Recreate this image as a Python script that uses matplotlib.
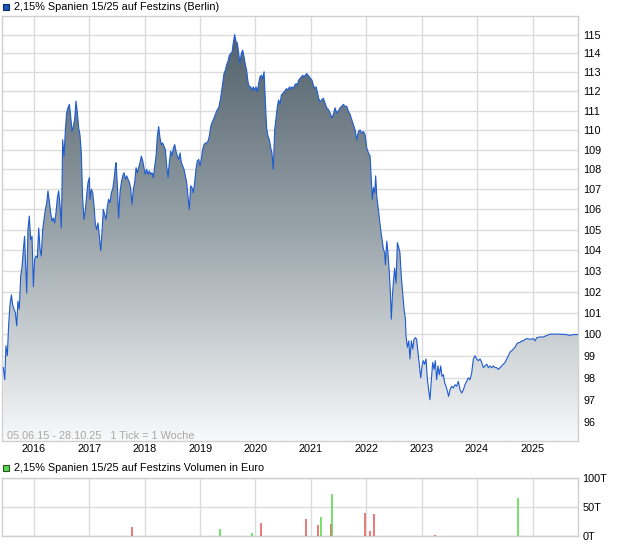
import numpy as np
import pandas as pd
import matplotlib
matplotlib.use("Agg")
import matplotlib.pyplot as plt
import matplotlib.dates as mdates
from matplotlib.colors import LinearSegmentedColormap
from matplotlib.patches import Rectangle
from matplotlib.ticker import FixedLocator, NullLocator, FuncFormatter

plt.rcParams['font.family'] = ['Liberation Sans', 'DejaVu Sans']

# Kursverlauf: Tage seit 05.06.15 und Kurs in %
start = pd.Timestamp('2015-06-05')
ende = pd.Timestamp('2025-10-28')

tage = [9, 18, 26, 35, 44, 53, 62, 70, 79, 88, 97, 105, 114, 123, 132, 141, 149, 158, 163, 171,
        180, 189, 198, 207, 215, 224, 233, 242, 251, 259, 268, 277, 286, 295, 303, 312, 321, 330, 339, 347,
        356, 365, 374, 383, 391, 396, 400, 409, 418, 426, 435, 444, 453, 462, 470, 479, 488, 497, 506, 514,
        523, 532, 541, 550, 558, 567, 576, 580, 589, 598, 607, 615, 624, 633, 642, 651, 659, 668, 677, 686,
        695, 703, 712, 721, 730, 739, 747, 752, 761, 769, 778, 787, 796, 805, 813, 822, 831, 840, 848, 857,
        866, 875, 884, 892, 901, 910, 919, 928, 936, 945, 954, 963, 972, 980, 989, 998, 1007, 1016, 1024, 1033,
        1042, 1051, 1059, 1068, 1077, 1086, 1095, 1103, 1112, 1121, 1130, 1139, 1147, 1156, 1165, 1174, 1183, 1191, 1200, 1209,
        1218, 1227, 1235, 1244, 1253, 1262, 1270, 1279, 1288, 1297, 1306, 1314, 1323, 1332, 1341, 1350, 1358, 1367, 1376, 1385,
        1394, 1402, 1411, 1420, 1429, 1438, 1446, 1455, 1464, 1473, 1481, 1490, 1499, 1508, 1517, 1525, 1534, 1543, 1552, 1561,
        1569, 1578, 1587, 1596, 1605, 1613, 1622, 1631, 1640, 1649, 1657, 1666, 1675, 1684, 1692, 1701, 1710, 1719, 1728, 1736,
        1745, 1754, 1763, 1772, 1780, 1789, 1798, 1807, 1816, 1824, 1833, 1842, 1851, 1860, 1868, 1877, 1886, 1895, 1903, 1912,
        1921, 1930, 1939, 1947, 1956, 1965, 1974, 1983, 1991, 2000, 2009, 2018, 2027, 2035, 2044, 2053, 2062, 2071, 2079, 2088,
        2097, 2108, 2119, 2130, 2141, 2152, 2163, 2174, 2185, 2196, 2207, 2218, 2229, 2240, 2251, 2262, 2273, 2284, 2295, 2306,
        2317, 2328, 2339, 2350, 2361, 2372, 2383, 2394, 2405, 2416, 2427, 2433, 2442, 2449, 2457, 2464, 2471, 2479, 2488, 2497,
        2506, 2515, 2523, 2528, 2537, 2545, 2554, 2561, 2567, 2574, 2580, 2589, 2598, 2607, 2616, 2624, 2633, 2642, 2651, 2660,
        2664, 2673, 2682, 2690, 2699, 2708, 2717, 2726, 2734, 2743, 2752, 2761, 2770, 2778, 2787, 2796, 2805, 2813, 2822, 2831,
        2840, 2849, 2857, 2866, 2875, 2884, 2893, 2901, 2910, 2919, 2928, 2937, 2945, 2954, 2965, 2976, 2987, 2998, 3009, 3020,
        3031, 3042, 3053, 3064, 3075, 3086, 3097, 3108, 3119, 3130, 3141, 3152, 3163, 3174, 3185, 3196, 3207, 3218, 3229, 3240,
        3251, 3262, 3273, 3284, 3295, 3306, 3317, 3328, 3339, 3350, 3361, 3372, 3383, 3394, 3405, 3416, 3427, 3438, 3449, 3460,
        3482, 3504, 3515, 3526, 3548, 3570, 3592, 3614, 3636, 3679, 3723, 3745, 3767, 3798]

kurs = [98.46, 97.91, 99.47, 99.01, 100.48, 101.41, 101.86, 101.41, 101.18, 101.03, 100.40, 101.56, 101.18, 102.73, 103.21, 104.05, 104.68, 102.89, 101.94, 105.00,
        105.67, 104.52, 104.68, 102.25, 103.55, 103.72, 103.64, 105.08, 104.05, 103.72, 105.00, 105.50, 106.00, 106.33, 106.92, 106.42, 105.83, 105.42, 105.58, 105.33,
        105.83, 106.58, 106.92, 106.17, 105.08, 107.25, 109.50, 108.67, 110.00, 110.88, 111.14, 111.32, 110.70, 109.92, 110.17, 110.53, 111.49, 110.88, 110.08, 109.75,
        108.83, 106.50, 105.50, 106.00, 106.67, 107.33, 107.58, 106.50, 107.00, 106.83, 106.17, 105.33, 105.00, 105.33, 104.68, 103.97, 104.84, 106.00, 105.75, 105.50,
        106.17, 106.50, 106.33, 106.83, 107.00, 107.50, 108.08, 108.33, 107.17, 105.58, 106.83, 107.33, 107.67, 107.83, 107.50, 107.67, 107.50, 107.33, 107.08, 106.25,
        107.00, 107.33, 108.08, 107.83, 108.08, 108.33, 108.67, 108.42, 108.08, 107.75, 108.00, 107.75, 107.92, 107.75, 107.83, 107.58, 108.17, 108.67, 109.67, 110.17,
        109.58, 109.25, 109.33, 109.17, 109.00, 108.17, 107.58, 108.33, 108.92, 108.67, 109.08, 109.25, 108.92, 108.67, 108.50, 108.83, 108.33, 108.17, 108.00, 107.67,
        107.33, 106.58, 106.00, 107.17, 107.08, 106.83, 107.33, 108.00, 108.42, 108.50, 108.17, 108.50, 109.00, 109.25, 109.33, 109.33, 109.42, 109.67, 110.17, 110.38,
        110.53, 110.70, 110.88, 111.05, 111.14, 111.49, 111.88, 112.40, 112.93, 113.11, 113.39, 113.57, 113.89, 113.98, 114.07, 114.54, 115.00, 114.63, 114.54, 113.98,
        113.48, 113.98, 114.17, 113.80, 113.39, 113.11, 112.49, 112.23, 112.23, 112.05, 112.23, 112.05, 112.23, 111.97, 112.40, 112.75, 112.84, 112.67, 113.02, 111.55,
        110.08, 109.67, 109.50, 109.08, 108.83, 108.00, 110.00, 110.62, 111.22, 111.55, 111.32, 111.80, 111.88, 111.97, 112.05, 112.14, 112.05, 112.23, 112.14, 112.23,
        112.14, 112.32, 112.40, 112.32, 112.58, 112.67, 112.75, 112.84, 112.75, 112.84, 112.93, 112.84, 112.75, 112.67, 112.58, 112.32, 112.14, 112.23, 111.97, 111.64,
        111.45, 111.55, 111.64, 111.39, 111.14, 111.05, 110.88, 110.62, 110.80, 111.14, 110.88, 110.97, 111.14, 111.22, 111.32, 111.22, 111.22, 110.97, 110.80, 110.53,
        110.26, 110.00, 109.50, 109.92, 110.00, 109.83, 109.92, 109.75, 109.08, 108.83, 108.67, 107.83, 106.50, 107.08, 106.83, 107.67, 106.67, 106.17, 105.58, 105.00,
        104.52, 104.05, 103.88, 103.30, 104.44, 103.88, 102.89, 101.94, 100.71, 101.79, 102.41, 103.13, 102.41, 104.37, 104.13, 103.88, 102.73, 101.94, 101.18, 100.71,
        99.92, 99.40, 99.70, 98.86, 99.70, 99.32, 99.77, 99.85, 99.77, 99.17, 98.54, 97.99, 98.54, 98.78, 98.62, 98.86, 97.91, 97.45, 97.00, 97.91,
        98.70, 98.38, 98.78, 97.91, 98.54, 98.14, 98.54, 98.06, 98.14, 97.76, 97.61, 97.38, 97.15, 97.45, 97.61, 97.53, 97.68, 97.61, 97.83, 97.45,
        97.30, 97.45, 97.68, 97.83, 97.99, 97.91, 98.22, 98.86, 99.01, 98.86, 98.78, 98.86, 98.70, 98.46, 98.54, 98.62, 98.46, 98.54, 98.46, 98.54,
        98.46, 98.46, 98.38, 98.46, 98.54, 98.62, 98.70, 98.86, 99.01, 99.17, 99.24, 99.32, 99.40, 99.55, 99.62, 99.62, 99.70, 99.70, 99.77, 99.80,
        99.77, 99.80, 99.70, 99.85, 99.88, 99.88, 99.95, 100.01, 100.01, 100.01, 99.99, 99.95, 99.99, 99.99]

# Umsatz in Tausend Euro (rot = Kurs gefallen, gruen = gestiegen)
vol_tage = [859, 1439, 1650, 1710, 2007, 2086, 2102, 2171, 2178, 2396, 2429, 2455, 2857, 3405]
vol_wert = [16, 12, 5, 22, 29, 19, 33, 21, 72, 39, 9, 38, 2, 65]
vol_farbe = ['r', 'g', 'g', 'r', 'r', 'r', 'g', 'r', 'g', 'r', 'r', 'r', 'r', 'g']

kurs_ticks = list(range(96, 116))
jahre = list(range(2016, 2026))

datum = start + pd.to_timedelta(tage, unit='D')
vol_datum = start + pd.to_timedelta(vol_tage, unit='D')

W, H = 620, 546
fs = 7.8
fig = plt.figure(figsize=(W / 100, H / 100), dpi=100)
ax = fig.add_axes([2 / W, 1 - 441 / H, 576 / W, 425 / H])
ax2 = fig.add_axes([2 / W, 1 - 536 / H, 576 / W, 58 / H])

grid_c = '#dcdcdc'
frame_c = '#cfcfcf'
ymin, ymax = 95.15, 116.0

# Verlauf-Flaeche
cmap = LinearSegmentedColormap.from_list('verlauf', [(0, '#f8f9fa'), (0.5, '#98a3a9'), (1, '#4b5b66')])
grad = np.linspace(0, 1, 256).reshape(-1, 1)
im = ax.imshow(grad, extent=[0, 1, 0, 1], transform=ax.transAxes, origin='lower',
               cmap=cmap, aspect='auto', zorder=1, interpolation='bilinear')
ax.set_yscale('log')
poly = ax.fill_between(datum, kurs, ymin, facecolor='none', edgecolor='none', zorder=1)
im.set_clip_path(poly.get_paths()[0], poly.get_transform())
ax.plot(datum, kurs, color='#1f5bd0', lw=0.8, zorder=3)

ax.set_xlim(start, ende)
ax.set_ylim(ymin, ymax)
ax.yaxis.set_major_locator(FixedLocator(kurs_ticks))
ax.yaxis.set_minor_locator(NullLocator())
ax.yaxis.set_major_formatter(FuncFormatter(lambda v, p: '%d' % round(v)))
ax.yaxis.tick_right()
jahr_pos = [mdates.date2num(pd.Timestamp(f'{j}-01-01')) for j in jahre]
ax.xaxis.set_major_locator(FixedLocator(jahr_pos))
ax.xaxis.set_minor_locator(NullLocator())
ax.set_xticklabels([str(j) for j in jahre])
ax.grid(True, color=grid_c, lw=1, zorder=0)
ax.set_axisbelow(True)
ax.tick_params(axis='both', length=0, labelsize=fs, colors='#000000')
ax.tick_params(axis='x', pad=2.5)
ax.tick_params(axis='y', pad=4.0)
for s in ax.spines.values():
    s.set_color(frame_c)
    s.set_linewidth(1)

ax.text(5 / 576, 5 / 425, '05.06.15 - 28.10.25   1 Tick = 1 Woche', transform=ax.transAxes,
        fontsize=fs, color='#aaa7a2', va='center', ha='left', zorder=4)

# Volumen
farben = {'r': '#e05555', 'g': '#55d64a'}
ax2.vlines(vol_datum, 0, vol_wert, colors=[farben[c] for c in vol_farbe], lw=1.1, zorder=3)
ax2.set_xlim(start, ende)
ax2.set_ylim(0, 100)
ax2.xaxis.set_major_locator(FixedLocator(jahr_pos))
ax2.set_xticklabels([])
ax2.yaxis.set_major_locator(FixedLocator([0, 50, 100]))
ax2.yaxis.set_major_formatter(FuncFormatter(lambda v, p: '%dT' % v))
ax2.yaxis.tick_right()
ax2.grid(True, color=grid_c, lw=1, zorder=0)
ax2.set_axisbelow(True)
ax2.tick_params(axis='both', length=0, labelsize=fs, colors='#000000')
ax2.tick_params(axis='y', pad=3.2)
for s in ax2.spines.values():
    s.set_color(frame_c)
    s.set_linewidth(1)

# Legenden-Titel
def legende(y_px, farbe, rand, text):
    fig.patches.append(Rectangle((3 / W, 1 - (y_px + 3) / H), 6 / W, 6 / H, transform=fig.transFigure,
                                 facecolor=farbe, edgecolor=rand, lw=0.8))
    fig.text(14 / W, 1 - y_px / H, text, fontsize=fs, va='center', ha='left', color='#000000')

legende(7, '#2255b8', '#0d2a66', '2,15% Spanien 15/25 auf Festzins (Berlin)')
legende(468, '#5fd35a', '#1f5a1a', '2,15% Spanien 15/25 auf Festzins Volumen in Euro')

fig.savefig('out.png', dpi=100)
